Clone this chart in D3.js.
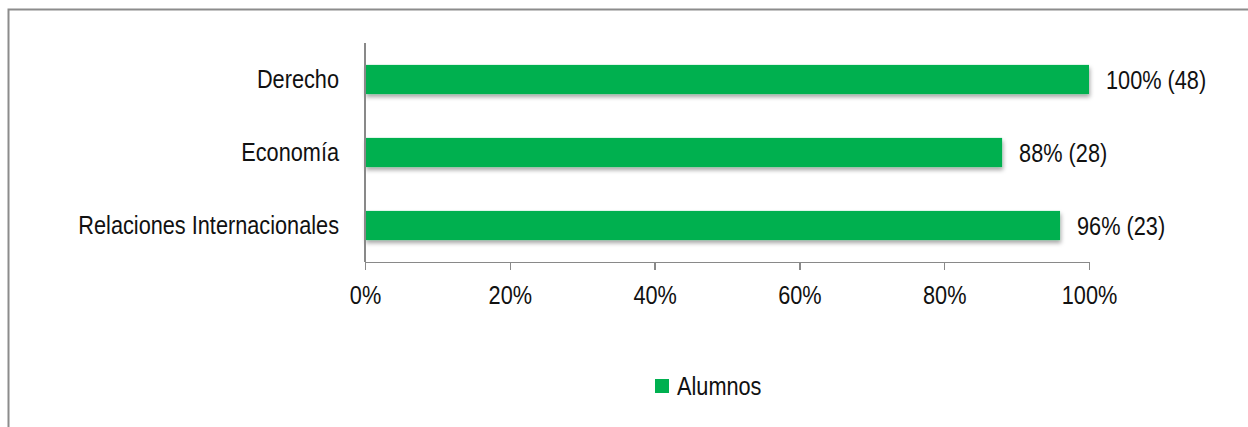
<!DOCTYPE html>
<html>
<head>
<meta charset="utf-8">
<script src="https://cdn.jsdelivr.net/npm/d3@7"></script>
<style>
  html, body { margin: 0; padding: 0; background: #fff; }
  svg { display: block; }
  text { font-family: "Liberation Sans Narrow", "Arial Narrow", "Liberation Sans", Arial, sans-serif; font-size: 26px; fill: #111; }
</style>
</head>
<body>
<svg id="chart" width="1248" height="427"></svg>
<script>
// Share of students per programme, with headcount in parentheses
const categories = ["Derecho", "Economía", "Relaciones Internacionales"];
const percentages = [100, 88, 96];
const counts = [48, 28, 23];
const tickValues = [0, 20, 40, 60, 80, 100];
const seriesName = "Alumnos";

const width = 1248, height = 427;
const barColor = "#00B050";
const axisColor = "#898989";
const narrow = 0.835; // condensed lettering width factor

const svg = d3.select("#chart");

// outer frame
svg.append("rect")
  .attr("x", 8.5).attr("y", 9.5)
  .attr("width", width + 10).attr("height", height + 10)
  .attr("fill", "none")
  .attr("stroke", "#8c8c8c")
  .attr("stroke-width", 2);

// soft drop shadow under bars
const defs = svg.append("defs");
const f = defs.append("filter").attr("id", "barShadow")
  .attr("x", "-5%").attr("y", "-30%").attr("width", "115%").attr("height", "190%");
f.append("feDropShadow")
  .attr("dx", 1).attr("dy", 3).attr("stdDeviation", 2)
  .attr("flood-color", "#000").attr("flood-opacity", 0.35);

const x = d3.scaleLinear().domain([0, 100]).range([365, 1089]);
const y = d3.scaleBand().domain(categories).range([43, 262]).paddingInner(0.6).paddingOuter(0.3);

const rows = categories.map((c, i) => ({ cat: c, pct: percentages[i], n: counts[i] }));

// bars
svg.append("g").selectAll("rect")
  .data(rows).join("rect")
  .attr("x", x(0))
  .attr("y", d => y(d.cat))
  .attr("width", d => x(d.pct) - x(0))
  .attr("height", y.bandwidth())
  .attr("fill", barColor)
  .attr("filter", "url(#barShadow)");

// value labels
svg.append("g").selectAll("text")
  .data(rows).join("text")
  .attr("x", d => x(d.pct) + 17)
  .attr("y", d => y(d.cat) + y.bandwidth() / 2)
  .attr("dy", "0.36em")
  .text(d => `${d.pct}% (${d.n})`);

// category axis
const yAxis = svg.append("g").attr("transform", `translate(${x(0)},0)`)
  .call(d3.axisLeft(y).tickSize(0).tickPadding(26));
yAxis.select(".domain").attr("stroke", axisColor).attr("stroke-width", 1.5)
  .attr("d", `M0,43V262`);
yAxis.selectAll("text").attr("font-size", null).attr("font-family", null).attr("fill", null);

// value axis
const xAxis = svg.append("g").attr("transform", "translate(0,262)")
  .call(d3.axisBottom(x).tickValues(tickValues).tickFormat(d => d + "%").tickSize(8).tickPadding(16).tickSizeOuter(0));
xAxis.select(".domain").attr("stroke", axisColor).attr("stroke-width", 1.5);
xAxis.selectAll(".tick line").attr("stroke", axisColor).attr("stroke-width", 1.5);
xAxis.selectAll("text").attr("font-size", null).attr("font-family", null).attr("fill", null);
svg.selectAll(".domain, .tick line").attr("shape-rendering", "crispEdges");

// legend
const legend = svg.append("g").attr("transform", "translate(655,379)");
legend.append("rect").attr("width", 14).attr("height", 14).attr("fill", barColor);
legend.append("text").attr("x", 22).attr("y", 7).attr("dy", "0.36em").text(seriesName);

// condense all lettering when no narrow face is available
svg.selectAll("text").each(function () {
  const w = this.getComputedTextLength();
  d3.select(this).attr("textLength", w * narrow).attr("lengthAdjust", "spacingAndGlyphs");
});
</script>
</body>
</html>
